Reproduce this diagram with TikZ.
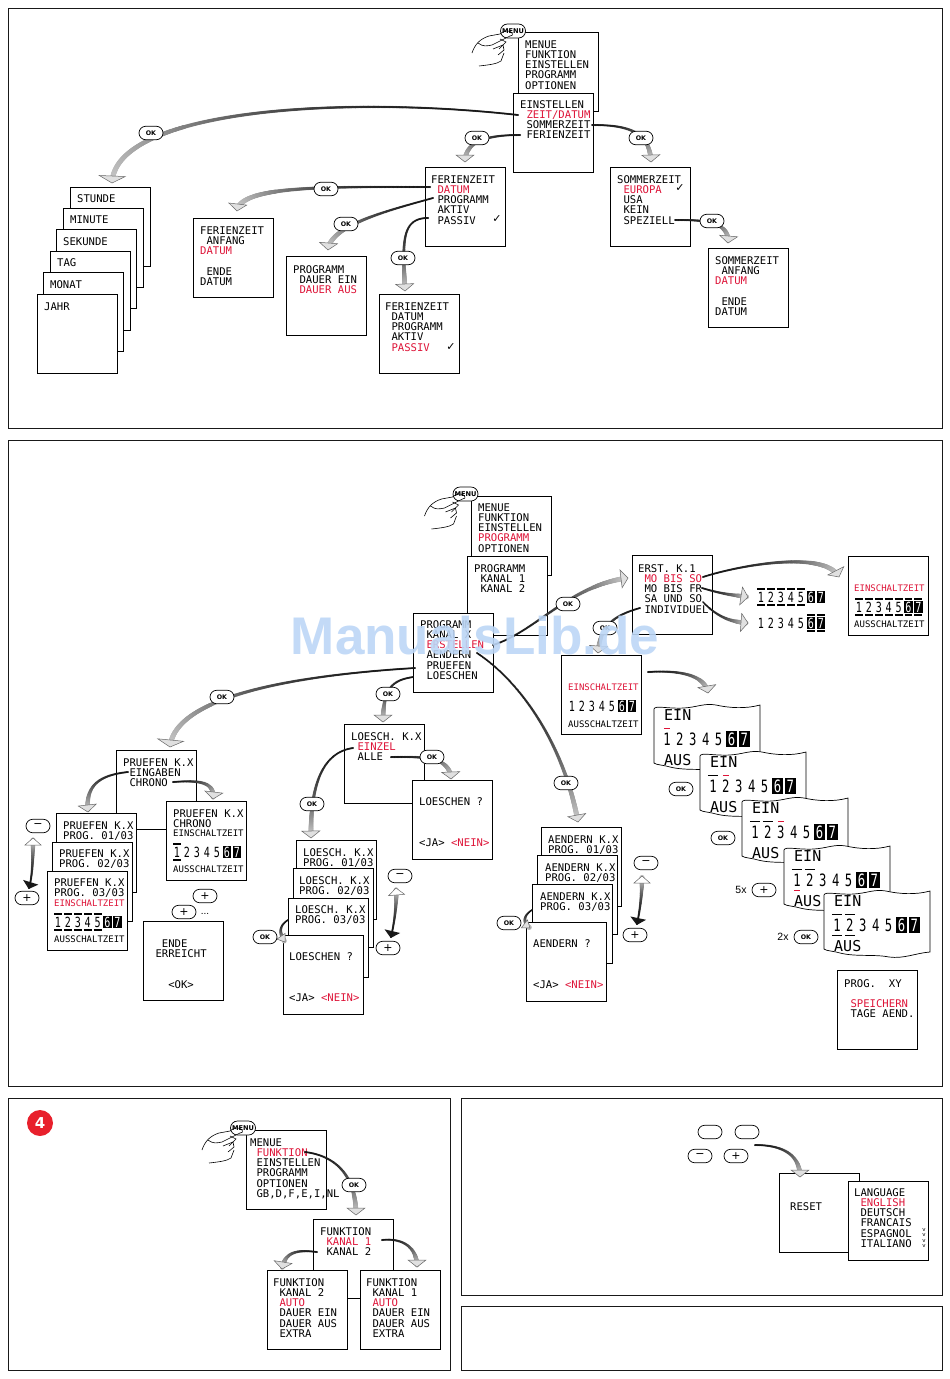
\documentclass[tikz,border=0pt]{standalone}
\usepackage{fontspec}
\usepackage{xcolor}
\setsansfont{DejaVu Sans}
\newfontfamily\lcdfamily{DejaVu Sans Mono}
\newfontfamily\dayfamily[FakeStretch=0.72]{DejaVu Sans Mono}
\newfontfamily\labelfamily{Liberation Sans}
\usetikzlibrary{calc,decorations.markings,shapes.misc}

\definecolor{lcdred}{RGB}{222,20,56}
\definecolor{badgered}{RGB}{232,32,44}
\definecolor{markblue}{RGB}{188,214,246}

\newcommand{\lcdfont}{\lcdfamily\fontsize{10.6}{10.2}\selectfont}
\newcommand{\lcdsmall}{\lcdfamily\fontsize{9}{10.2}\selectfont}
\newcommand{\lcdbig}{\lcdfamily\fontsize{15}{15}\selectfont}
\newcommand{\lcdhot}[1]{\textcolor{lcdred}{#1}}

\newcommand{\flowdot}{%
  \pgfmathsetmacro\flowpos{\pgfkeysvalueof{/pgf/decoration/mark info/distance from start}/\pgfdecoratedpathlength}%
  \pgfmathsetmacro\flowtone{92-72*\flowpos*\flowpos}%
  \pgfmathsetmacro\flowrad{1.0+1.7*\flowpos*\flowpos}%
  \fill[black!\flowtone!white] (0,0) circle[radius=\flowrad pt];}

\tikzset{
  panel/.style={draw=black!90,line width=0.9pt},
  screenbox/.style={draw,fill=white,line width=0.8pt,anchor=north west,inner sep=0pt,
    minimum width=80pt,minimum height=79pt},
  lcdtext/.style={font=\lcdfont,align=left,anchor=north west,inner sep=0pt},
  lcdline/.style={font=\lcdsmall,anchor=west,inner sep=0pt},
  lcdlarge/.style={font=\lcdbig,anchor=west,inner sep=0pt},
  btn/.style={rounded rectangle,draw,fill=white,line width=0.7pt,inner sep=0pt,
    minimum width=24pt,minimum height=13.5pt},
  okbtn/.style={btn,font=\sffamily\bfseries\fontsize{6.3}{7}\selectfont},
  menubtn/.style={btn,minimum width=25pt,minimum height=14pt,font=\sffamily\bfseries\fontsize{6.6}{7}\selectfont},
  signbtn/.style={btn,font=\sffamily\fontsize{11}{11}\selectfont},
  handline/.style={line width=0.6pt},
  wavebox/.style={draw,fill=white,line width=0.7pt},
  daybar/.style={line width=1.5pt},
  daydot/.style={line width=1.5pt,lcdred,shorten <=2pt,shorten >=2pt},
  chk/.style={font=\sffamily\fontsize{11}{11}\selectfont,inner sep=0pt},
  flowhead/.style={draw=black!60,fill=black!12,line width=0.5pt},
  flow/.style={decorate,decoration={markings,
    mark=between positions 0 and 0.97 step 0.7pt with {\flowdot}}},
  swing/.style={decorate,decoration={markings,
    mark=at position 0 with {\fill[black!90] (-1,0) -- (6,8) -- (6,-8) -- cycle;},
    mark=between positions 0 and 0.97 step 0.7pt with {\flowdot}}}
}

\newcommand{\screen}[6]{%
  \node[screenbox] (#1) at (#2,#3) {};
  \node[lcdtext] (#1-txt) at ([shift={(#4,#5)}]#1.north west) {\rule{0pt}{8pt}#6};}

\newcommand{\flowarrow}[6][9]{%
  \coordinate (#2-from) at (#3);
  \coordinate (#2-to) at (#6);
  \path[flow] (#2-from) .. controls (#4) and (#5) .. (#2-to);
  \coordinate (#2-base) at ($(#2-to)!7pt!(#5)$);
  \draw[flowhead] (#2-to) -- ($(#2-base)!#1pt!90:(#2-to)$) -- ($(#2-base)!#1pt!-90:(#2-to)$) -- cycle;}

\newcommand{\swingarrow}[5]{%
  \coordinate (#1-from) at (#2);
  \coordinate (#1-to) at (#5);
  \path[swing] (#1-from) .. controls (#3) and (#4) .. (#1-to);
  \coordinate (#1-base) at ($(#1-to)!7pt!(#4)$);
  \draw[flowhead,fill=white] (#1-to) -- ($(#1-base)!8pt!90:(#1-to)$) -- ($(#1-base)!8pt!-90:(#1-to)$) -- cycle;}

\newcommand{\dayrow}[6]{%
  \foreach \n in {1,...,5}
    \node[inner sep=0pt,minimum width={#4*0.75},minimum height=#6,font=\dayfamily\fontsize{#5}{#5}\selectfont]
      (#1-\n) at ({#2+(\n-1)*#4},#3) {\n};
  \foreach \n in {6,7} {
    \node[inner sep=0pt,fill=black,text=white,minimum width={#4-1.6},minimum height={#6*0.72},font=\dayfamily\fontsize{#5}{#5}\selectfont]
      at ({#2+(\n-1)*#4},#3) {\n};
    \node[inner sep=0pt,minimum width={#4*0.75},minimum height=#6] (#1-\n) at ({#2+(\n-1)*#4},#3) {};
  }}
\newcommand{\daytop}[2]{\foreach \n in {#2} \draw[daybar] (#1-\n.north west) -- (#1-\n.north east);}
\newcommand{\daylow}[2]{\foreach \n in {#2} \draw[daybar] (#1-\n.south west) -- (#1-\n.south east);}

\newcommand{\wavescreen}[3]{%
  \begin{scope}[shift={(#2,#3)}]
    \draw[wavebox] (0,4) .. controls (1,0) and (14,4) .. (30,3) .. controls (44,2) and (50,-2) .. (62,0)
      .. controls (75,3) and (92,4) .. (106,0) -- (106,61) .. controls (92,62) and (80,68) .. (65,66)
      .. controls (50,63) and (32,66) .. (16,62) .. controls (10,60) and (2,60) .. (0,58) -- cycle;
    \node[lcdlarge] (#1-ein) at (10,10) {EIN};
    \dayrow{#1}{13}{34}{12.9}{17}{21}
    \node[lcdlarge] (#1-aus) at (10,55) {AUS};
  \end{scope}}

\newcommand{\menuhand}[3]{%
  \begin{scope}[shift={(#2,#3)}]
    \node[menubtn] (#1) at (0,0) {MENU};
    \draw[handline] (-41,22) .. controls (-38,13) and (-33,8) .. (-24,5) -- (-13,3) .. controls (-10,0) and (-5,-1) .. (-2,1);
    \draw[handline] (-35,12) .. controls (-30,16) and (-26,15) .. (-21,14) -- (-3,5);
    \draw[handline] (-2,1) .. controls (1,3) and (-1,6) .. (-3,5);
    \draw[handline] (-13,8) -- (-7,11) -- (-14,18);
    \draw[handline] (-20,18) -- (-10,14) -- (-9,19) -- (-15,24);
    \draw[handline] (-34,35) .. controls (-25,34) and (-16,33) .. (-12,30) -- (-9,22);
  \end{scope}}

\begin{document}
\begin{tikzpicture}[x=1pt,y=-1pt]
  \useasboundingbox (0,0) rectangle (950,1379);

  \draw[panel] (8,8) rectangle (942,428);
  \draw[panel] (8,440) rectangle (942,1086);
  \draw[panel] (8,1098) rectangle (450,1370);
  \draw[panel] (461,1098) rectangle (942,1295);
  \draw[panel] (461,1306) rectangle (942,1370);

  \screen{menueA}{518}{32}{7}{8}{MENUE\\FUNKTION\\EINSTELLEN\\PROGRAMM\\OPTIONEN}
  \screen{einst}{513}{93}{7}{7}{EINSTELLEN\\~\lcdhot{ZEIT/DATUM}\\~SOMMERZEIT\\~FERIENZEIT}
  \menuhand{menuA}{513}{31}
  \screen{stunde}{70}{187}{7}{7}{STUNDE}
  \screen{minute}{63}{208}{7}{7}{MINUTE}
  \screen{sekunde}{56}{229}{7}{8}{SEKUNDE}
  \screen{tag}{50}{251}{7}{7}{TAG}
  \screen{monat}{43}{272}{7}{8}{MONAT}
  \screen{jahr}{37}{294}{7}{8}{JAHR}
  \screen{ferien}{425}{167}{6}{8}{FERIENZEIT\\~\lcdhot{DATUM}\\~PROGRAMM\\~AKTIV\\~PASSIV}
  \screen{ferienA}{193}{218}{7}{8}{FERIENZEIT\\~ANFANG\\\lcdhot{DATUM}\\~\\~ENDE\\DATUM}
  \screen{progA}{286}{256}{7}{9}{PROGRAMM\\~DAUER EIN\\~\lcdhot{DAUER AUS}}
  \screen{ferienB}{379}{294}{6}{8}{FERIENZEIT\\~DATUM\\~PROGRAMM\\~AKTIV\\~\lcdhot{PASSIV}}
  \screen{sommer}{610}{167}{7}{8}{SOMMERZEIT\\~\lcdhot{EUROPA}\\~USA\\~KEIN\\~SPEZIELL}
  \screen{sommerA}{708}{248}{7}{8}{SOMMERZEIT\\~ANFANG\\\lcdhot{DATUM}\\~\\~ENDE\\DATUM}
  \node[chk] (chkA) at (497,219) {✓};
  \node[chk] (chkB) at (451,347) {✓};
  \node[chk] (chkC) at (680,188) {✓};

  \flowarrow[13]{zeit}{518,115}{340,95}{115,110}{112,183}
  \flowarrow{feri}{520,135}{490,135}{465,140}{465,162}
  \flowarrow{somm}{592,125}{625,125}{650,130}{651,162}
  \flowarrow{spez}{675,220}{700,220}{730,220}{728,243}
  \flowarrow{datu}{430,187}{330,187}{240,185}{237,211}
  \flowarrow{prog}{433,198}{390,210}{330,225}{328,250}
  \flowarrow{pass}{428,218}{400,218}{403,245}{405,291}
  \node[okbtn] (okA) at (151,133) {OK};
  \node[okbtn] (okB) at (477,138) {OK};
  \node[okbtn] (okC) at (641,138) {OK};
  \node[okbtn] (okD) at (712,221) {OK};
  \node[okbtn] (okE) at (326,189) {OK};
  \node[okbtn] (okF) at (346,224) {OK};
  \node[okbtn] (okG) at (403,258) {OK};

  \screen{menueB}{471}{496}{7}{7}{MENUE\\FUNKTION\\EINSTELLEN\\\lcdhot{PROGRAMM}\\OPTIONEN}
  \screen{progB}{467}{556}{7}{8}{PROGRAMM\\~KANAL 1\\~KANAL 2}
  \menuhand{menuB}{465.5}{494}
  \screen{liste}{413}{613}{7}{7}{PROGRAMM\\~KANAL X\\~\lcdhot{ERSTELLEN}\\~AENDERN\\~PRUEFEN\\~LOESCHEN}
  \screen{erst}{632}{555}{6}{9}{ERST. K.1\\~\lcdhot{MO BIS SO}\\~MO BIS FR\\~SA UND SO\\~INDIVIDUEL}

  \screen{zeitA}{848}{556}{0}{0}{}
  \node[lcdline,text=lcdred] (zeitA-on) at (854,588) {EINSCHALTZEIT};
  \dayrow{zeitArow}{859}{607}{9.9}{14}{16}
  \daytop{zeitArow}{1,...,7}
  \daylow{zeitArow}{1,...,7}
  \node[lcdline] (zeitA-off) at (854,624) {AUSSCHALTZEIT};

  \dayrow{rowA}{761}{597}{10}{14}{16}
  \daytop{rowA}{1,...,5}
  \daylow{rowA}{1,...,5}
  \dayrow{rowB}{761}{623}{10}{14}{16}
  \daytop{rowB}{6,7}
  \daylow{rowB}{6,7}

  \screen{zeitB}{561}{655}{0}{0}{}
  \node[lcdline,text=lcdred] (zeitB-on) at (568,687) {EINSCHALTZEIT};
  \dayrow{zeitBrow}{572}{706}{10}{14}{16}
  \node[lcdline] (zeitB-off) at (568,724) {AUSSCHALTZEIT};

  \screen{pruefen}{116}{750}{7}{8}{PRUEFEN K.X\\~EINGABEN\\~CHRONO}
  \screen{chrono}{166}{801}{7}{8}{PRUEFEN K.X\\CHRONO}
  \node[lcdline] (chrono-on) at (173,833) {EINSCHALTZEIT};
  \dayrow{chronorow}{177}{852}{10}{14}{16}
  \daytop{chronorow}{1}
  \daylow{chronorow}{1}
  \node[lcdline] (chrono-off) at (173,869) {AUSSCHALTZEIT};
  \screen{pruefA}{56}{813}{7}{8}{PRUEFEN K.X\\PROG. 01/03}
  \screen{pruefB}{52}{842}{7}{7}{PRUEFEN K.X\\PROG. 02/03}
  \screen{pruefC}{47}{871}{7}{7}{PRUEFEN K.X\\PROG. 03/03}
  \node[lcdline,text=lcdred] (pruefC-on) at (54,903) {EINSCHALTZEIT};
  \dayrow{pruefrow}{58}{922}{9.9}{14}{16}
  \daytop{pruefrow}{1,...,5}
  \daylow{pruefrow}{1,...,5}
  \node[lcdline] (pruefC-off) at (54,939) {AUSSCHALTZEIT};
  \screen{ende}{143}{921}{6}{8}{~\\~~ENDE\\~ERREICHT\\~\\~\\~~~<OK>}

  \screen{loesch}{344}{724}{7}{8}{LOESCH. K.X\\~\lcdhot{EINZEL}\\~ALLE}
  \screen{frageA}{412}{780}{7}{17}{LOESCHEN ?\\~\\~\\~\\<JA> \lcdhot{<NEIN>}}
  \screen{loeschA}{296}{840}{7}{8}{LOESCH. K.X\\PROG. 01/03}
  \screen{loeschB}{293}{868}{6}{8}{LOESCH. K.X\\PROG. 02/03}
  \screen{loeschC}{288}{898}{7}{7}{LOESCH. K.X\\PROG. 03/03}
  \screen{frageB}{283}{935}{6}{17}{LOESCHEN ?\\~\\~\\~\\<JA> \lcdhot{<NEIN>}}

  \screen{aendA}{541}{827}{7}{8}{AENDERN K.X\\PROG. 01/03}
  \screen{aendB}{537}{855}{8}{8}{AENDERN K.X\\PROG. 02/03}
  \screen{aendC}{532}{884}{8}{8}{AENDERN K.X\\PROG. 03/03}
  \screen{frageC}{526}{922}{7}{17}{AENDERN ?\\~\\~\\~\\<JA> \lcdhot{<NEIN>}}

  \wavescreen{waveA}{654}{705}
  \draw[daydot] (waveA-1.north west) -- (waveA-1.north east);
  \wavescreen{waveB}{700}{752}
  \daytop{waveB}{1}
  \draw[daydot] (waveB-2.north west) -- (waveB-2.north east);
  \wavescreen{waveC}{742}{798}
  \daytop{waveC}{1,2}
  \draw[daydot] (waveC-3.north west) -- (waveC-3.north east);
  \wavescreen{waveD}{784}{846}
  \daytop{waveD}{1,2}
  \draw[daydot] (waveD-1.south west) -- (waveD-1.south east);
  \wavescreen{waveE}{824}{891}
  \daytop{waveE}{1,2}
  \daylow{waveE}{1,2}
  \screen{speich}{837}{970}{7}{9}{PROG.~~XY\\~\\~\lcdhot{SPEICHERN}\\~TAGE AEND.}

  \flowarrow[13]{prue}{415,668}{300,675}{175,695}{170,747}
  \flowarrow{loes}{413,677}{395,680}{383,685}{383,722}
  \flowarrow{einz}{353,748}{325,752}{310,780}{311,838}
  \flowarrow{alle}{391,757}{420,757}{450,755}{451,779}
  \flowarrow{eing}{128,772}{100,775}{85,785}{88,812}
  \flowarrow{chro}{173,782}{200,780}{215,782}{213,799}
  \flowarrow{aend}{477,653}{525,685}{565,750}{578,822}
  \flowarrow{erst}{493,645}{535,632}{570,585}{628,578}
  \flowarrow{mosa}{703,577}{740,565}{825,550}{839,577}
  \flowarrow{mofr}{702,588}{725,595}{735,595}{748,597}
  \flowarrow{saso}{703,602}{720,620}{735,622}{748,623}
  \flowarrow{indi}{640,608}{615,615}{600,625}{598,653}
  \flowarrow{zeig}{648,672}{680,670}{705,675}{708,693}
  \flowarrow[5]{frlo}{288,920}{280,925}{278,932}{285,942}
  \flowarrow[5]{fran}{532,910}{524,915}{522,922}{530,928}
  \swingarrow{swA}{29,888}{33,875}{33,850}{33,838}
  \swingarrow{swB}{391,937}{395,920}{397,900}{396,888}
  \swingarrow{swC}{637,924}{641,905}{642,890}{642,876}

  \node[okbtn] (okI) at (222,697) {OK};
  \node[okbtn] (okJ) at (388,694) {OK};
  \node[okbtn] (okK) at (312,804) {OK};
  \node[okbtn] (okL) at (432,757) {OK};
  \node[okbtn] (okM) at (566,783) {OK};
  \node[okbtn] (okN) at (568,604) {OK};
  \node[okbtn] (okO) at (605,628) {OK};
  \node[okbtn] (okP) at (265,937) {OK};
  \node[okbtn] (okQ) at (509,923) {OK};
  \node[okbtn] (okR) at (681,789) {OK};
  \node[okbtn] (okS) at (723,838) {OK};
  \node[okbtn] (okT) at (806,937) {OK};
  \node[signbtn] (minA) at (38,826) {−};
  \node[signbtn] (plusA) at (27,898) {+};
  \node[signbtn] (plusB) at (205,896) {+};
  \node[signbtn] (plusC) at (184,912) {+};
  \node[font=\labelfamily\fontsize{10}{10}\selectfont,inner sep=0pt] (dots) at (205,914) {...};
  \node[signbtn] (minB) at (400,876) {−};
  \node[signbtn] (plusD) at (388,948) {+};
  \node[signbtn] (minC) at (646,863) {−};
  \node[signbtn] (plusE) at (635,935) {+};
  \node[signbtn] (plusF) at (764,890) {+};
  \node[font=\labelfamily\fontsize{10.5}{10.5}\selectfont,inner sep=0pt] (fivex) at (741,890) {5x};
  \node[font=\labelfamily\fontsize{10.5}{10.5}\selectfont,inner sep=0pt] (twox) at (783,937) {2x};

  \node[circle,fill=badgered,text=white,inner sep=0pt,minimum size=26pt,font=\sffamily\bfseries\fontsize{15}{15}\selectfont] (badge) at (40,1123) {4};
  \screen{menueC}{246}{1130}{4}{8}{MENUE\\~\lcdhot{FUNKTION}\\~EINSTELLEN\\~PROGRAMM\\~OPTIONEN\\~GB,D,F,E,I,NL}
  \menuhand{menuC}{243}{1128}
  \screen{funk}{313}{1219}{7}{8}{FUNKTION\\~\lcdhot{KANAL 1}\\~KANAL 2}
  \screen{funkB}{267}{1270}{6}{8}{FUNKTION\\~KANAL 2\\~\lcdhot{AUTO}\\~DAUER EIN\\~DAUER AUS\\~EXTRA}
  \screen{funkA}{360}{1270}{6}{8}{FUNKTION\\~KANAL 1\\~\lcdhot{AUTO}\\~DAUER EIN\\~DAUER AUS\\~EXTRA}
  \flowarrow{fnkt}{305,1152}{330,1155}{356,1170}{356,1215}
  \flowarrow{kanb}{317,1252}{300,1250}{285,1250}{282,1269}
  \flowarrow{kana}{382,1240}{400,1238}{417,1245}{417,1267}
  \node[okbtn] (okU) at (354,1185) {OK};

  \node[btn] (keyA) at (710,1132) {};
  \node[btn] (keyB) at (747,1132) {};
  \node[signbtn] (keyC) at (700,1156) {−};
  \node[signbtn] (keyD) at (736,1156) {+};
  \screen{reset}{779}{1173}{11}{29}{RESET}
  \screen{lang}{848}{1181}{6}{7}{LANGUAGE\\~\lcdhot{ENGLISH}\\~DEUTSCH\\~FRANCAIS\\~ESPAGNOL\\~ITALIANO}
  \node[font=\sffamily\fontsize{5.5}{5.6}\selectfont,align=center,inner sep=0pt] (scroll) at (924,1238) {v\\v\\v\\v};
  \flowarrow{rese}{755,1145}{775,1145}{800,1150}{800,1177}

  \node[font=\labelfamily\bfseries\fontsize{53}{53}\selectfont,text=markblue,text opacity=0.9,inner sep=0pt] (watermark) at (475,636) {ManualsLib.de};
\end{tikzpicture}
\end{document}
